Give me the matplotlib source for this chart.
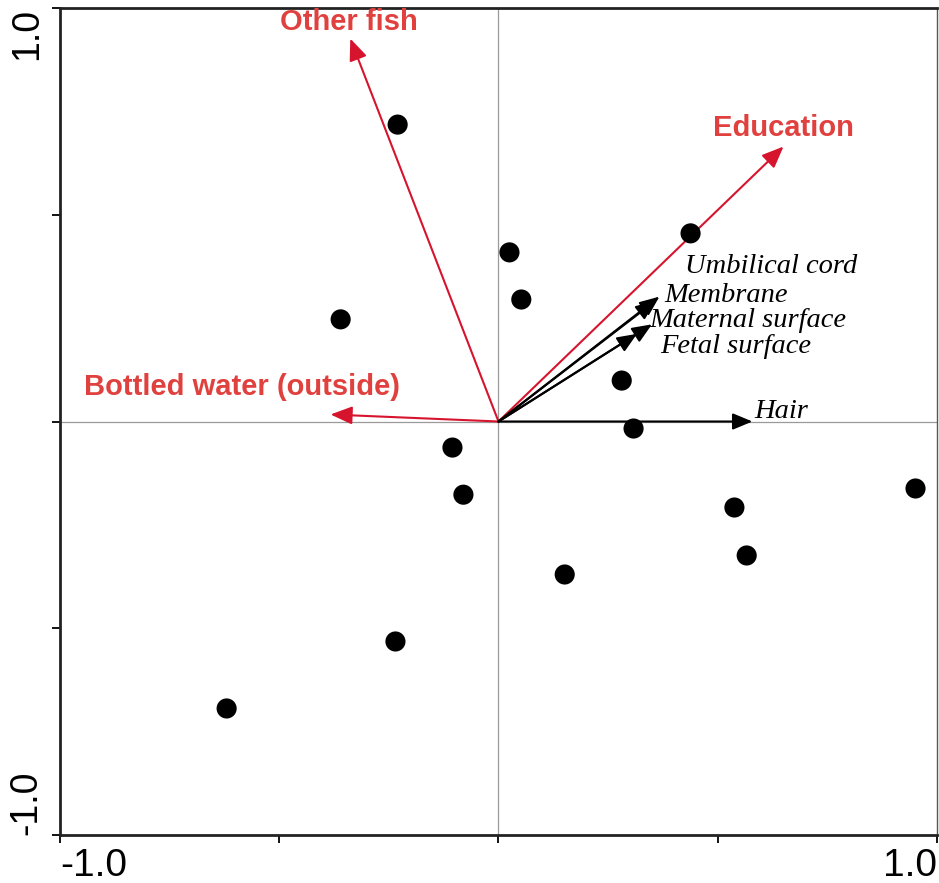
import matplotlib
matplotlib.use('Agg')
import matplotlib.pyplot as plt

# ==== Data ====
# sample scores
site_x = [-0.230, 0.025, 0.052, -0.360, 0.438, 0.281, 0.308, -0.105, -0.080,
          0.951, 0.538, 0.566, 0.151, -0.235, -0.620]
site_y = [0.718, 0.409, 0.295, 0.247, 0.455, 0.099, -0.017, -0.063, -0.177,
          -0.162, -0.208, -0.324, -0.370, -0.532, -0.694]

# explanatory variables (red)
env_names = ['Other fish', 'Education', 'Bottled water (outside)']
env_x = [-0.338, 0.650, -0.383]
env_y = [0.926, 0.665, 0.017]

# response variables (black)
resp_names = ['Umbilical cord', 'Membrane', 'Maternal surface', 'Fetal surface', 'Hair']
resp_x = [0.367, 0.358, 0.350, 0.316, 0.579]
resp_y = [0.302, 0.292, 0.235, 0.212, 0.000]

RED_LINE = '#d7142e'
RED_TEXT = '#e0413f'

fig = plt.figure(figsize=(9.39, 8.83), dpi=100)
ax = fig.add_axes([60 / 939, 48 / 883, 877 / 939, 827 / 883])
ax.set_xlim(-1, 1)
ax.set_ylim(-1, 1)

ax.axhline(0, color='#9a9a9a', lw=0.9, zorder=1)
ax.axvline(0, color='#9a9a9a', lw=0.9, zorder=1)

ax.scatter(site_x, site_y, s=210, color='black', zorder=4, edgecolors='none')

for x, y in zip(env_x, env_y):
    ax.annotate('', xy=(x, y), xytext=(0, 0),
                arrowprops=dict(arrowstyle='-|>,head_length=0.6,head_width=0.25',
                                color=RED_LINE, lw=1.5,
                                mutation_scale=22, shrinkA=0, shrinkB=0),
                zorder=3)
for x, y in zip(resp_x, resp_y):
    ax.annotate('', xy=(x, y), xytext=(0, 0),
                arrowprops=dict(arrowstyle='-|>,head_length=0.6,head_width=0.25',
                                color='black', lw=1.5,
                                mutation_scale=20, shrinkA=0, shrinkB=0),
                zorder=3)

bold = dict(family='Liberation Sans', fontsize=21, fontweight='bold', color=RED_TEXT)
ax.text(-0.342, 0.966, env_names[0], ha='center', va='center', **bold)
ax.text(0.650, 0.709, env_names[1], ha='center', va='center', **bold)
ax.text(-0.946, 0.083, env_names[2], ha='left', va='center', **bold)

ital = dict(family='Liberation Serif', fontsize=20.5, style='italic', color='black')
ax.text(0.425, 0.375, resp_names[0], ha='left', va='center', **ital)
ax.text(0.379, 0.304, resp_names[1], ha='left', va='center', **ital)
ax.text(0.343, 0.245, resp_names[2], ha='left', va='center', **ital)
ax.text(0.368, 0.182, resp_names[3], ha='left', va='center', **ital)
ax.text(0.584, 0.024, resp_names[4], ha='left', va='center', **ital)

ticks = [-1.0, -0.5, 0.0, 0.5, 1.0]
ax.set_xticks(ticks)
ax.set_yticks(ticks)
ax.set_xticklabels(['-1.0', '', '', '', '1.0'], family='Liberation Sans', fontsize=28)
ax.set_yticklabels(['-1.0', '', '', '', '1.0'], family='Liberation Sans', fontsize=27,
                   rotation=90)
ax.tick_params(direction='out', length=6, width=1.3, pad=3)
ax.tick_params(axis='y', pad=5)
xl = ax.get_xticklabels()
xl[0].set_ha('left')
xl[-1].set_ha('right')
yl = ax.get_yticklabels()
yl[0].set_va('bottom')
yl[-1].set_va('top')
for t in yl:
    t.set_ha('right')

for side in ['left', 'bottom', 'top']:
    ax.spines[side].set_linewidth(2)
    ax.spines[side].set_color('#222222')
ax.spines['right'].set_linewidth(1)
ax.spines['right'].set_color('#555555')

fig.savefig('out.png', dpi=100)
